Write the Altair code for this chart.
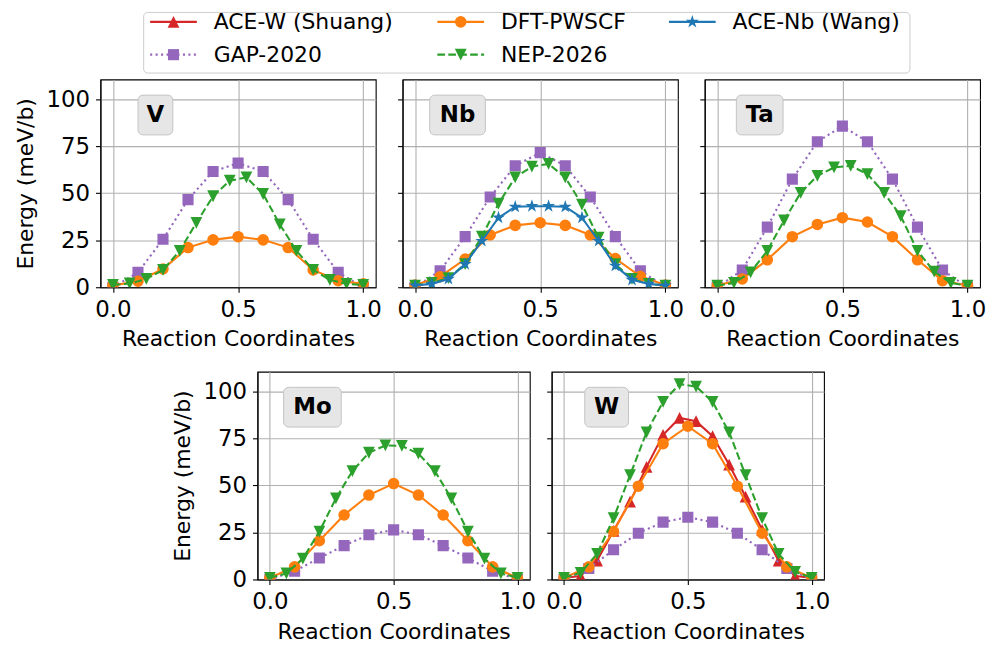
import altair as alt
import pandas as pd

# ---------------- data ----------------
X11 = [0.0, 0.1, 0.2, 0.3, 0.4, 0.5, 0.6, 0.7, 0.8, 0.9, 1.0]
X16 = [0.0, 0.0667, 0.1333, 0.2, 0.2667, 0.3333, 0.4, 0.4667,
       0.5333, 0.6, 0.6667, 0.7333, 0.8, 0.8667, 0.9333, 1.0]

ELEMENTS = ["V", "Nb", "Ta", "Mo", "W"]
SERIES = ["ACE-W (Shuang)", "GAP-2020", "DFT-PWSCF", "NEP-2026", "ACE-Nb (Wang)"]

V_DFT = [1.0, 3.2, 9.7, 21.1, 25.2, 26.9, 25.2, 21.1, 9.2, 3.5, 1.8]
V_GAP = [0.0, 7.9, 25.5, 46.6, 61.6, 66.0, 61.6, 46.6, 25.5, 7.9, 0.0]
V_NEP = [1.2, 2.0, 4.4, 9.2, 19.4, 34.3, 48.4, 56.7, 58.4, 49.6, 33.4, 19.4, 9.2, 3.9, 1.8, 1.2]

NB_DFT = [1.2, 5.6, 15.0, 27.8, 32.9, 34.3, 32.9, 27.8, 15.3, 5.8, 1.2]
NB_GAP = [0.0, 8.8, 26.9, 48.0, 64.6, 71.6, 64.6, 48.0, 26.9, 8.8, 0.0]
NB_NEP = [0.9, 2.3, 4.8, 12.3, 26.9, 44.5, 58.4, 64.2, 65.6, 58.4, 44.0, 26.4, 12.3, 4.4, 1.8, 0.9]
NB_ACE = [0.9, 1.8, 4.4, 12.3, 24.6, 37.0, 42.8, 43.1, 43.1, 42.8, 37.0, 24.6, 11.4, 3.9, 1.8, 0.9]

TA_DFT = [0.9, 4.4, 14.6, 26.9, 33.4, 37.0, 34.7, 26.9, 14.6, 3.5, 0.9]
TA_GAP = [0.0, 9.2, 32.0, 57.5, 77.4, 85.7, 77.4, 57.5, 32.0, 9.2, 0.0]
TA_NEP = [0.9, 2.3, 7.9, 19.4, 35.5, 50.2, 59.3, 63.7, 64.6, 60.2, 50.2, 37.8, 19.4, 8.3, 2.3, 0.9]

MO_DFT = [0.9, 6.7, 20.6, 34.3, 44.9, 51.0, 44.9, 34.3, 20.6, 6.7, 0.9]
MO_GAP = [0.0, 4.4, 11.4, 18.0, 23.8, 26.4, 23.8, 18.0, 11.4, 4.4, 0.0]
MO_NEP = [0.9, 3.2, 11.1, 25.5, 43.1, 57.6, 67.4, 71.3, 71.0, 66.9, 57.6, 43.1, 25.5, 11.1, 3.2, 0.9]

W_DFT = [0.9, 6.7, 25.5, 49.6, 72.2, 81.5, 72.2, 49.6, 24.6, 6.7, 0.9]
W_GAP = [0.0, 5.8, 15.8, 24.6, 30.5, 33.1, 30.5, 24.6, 15.8, 5.8, 0.0]
W_NEP = [0.9, 3.5, 13.6, 32.6, 55.5, 78.3, 94.5, 103.9, 102.6, 94.5, 78.3, 55.5, 32.6, 13.6, 4.0, 0.9]
W_ACE = [0.9, 1.8, 10.0, 25.9, 41.4, 59.9, 76.9, 85.9, 84.2, 76.2, 61.1, 44.0, 26.4, 10.0, 1.8, 0.9]

PANELS = {
    "V": {"GAP-2020": (X11, V_GAP), "DFT-PWSCF": (X11, V_DFT), "NEP-2026": (X16, V_NEP)},
    "Nb": {"GAP-2020": (X11, NB_GAP), "DFT-PWSCF": (X11, NB_DFT), "NEP-2026": (X16, NB_NEP),
           "ACE-Nb (Wang)": (X16, NB_ACE)},
    "Ta": {"GAP-2020": (X11, TA_GAP), "DFT-PWSCF": (X11, TA_DFT), "NEP-2026": (X16, TA_NEP)},
    "Mo": {"GAP-2020": (X11, MO_GAP), "DFT-PWSCF": (X11, MO_DFT), "NEP-2026": (X16, MO_NEP)},
    "W": {"ACE-W (Shuang)": (X16, W_ACE), "GAP-2020": (X11, W_GAP), "DFT-PWSCF": (X11, W_DFT),
          "NEP-2026": (X16, W_NEP)},
}

# ---------------- styles ----------------
FONT = "DejaVu Sans"
TRI_UP = "M0,-1L1,1L-1,1Z"
TRI_DOWN = "M0,1L1,-1L-1,-1Z"
STAR = ("M0,-1L0.2245,-0.309L0.951,-0.309L0.363,0.118L0.588,0.809L0,0.382"
        "L-0.588,0.809L-0.363,0.118L-0.951,-0.309L-0.2245,-0.309Z")
STYLE = {
    "ACE-W (Shuang)": dict(color="#d62728", shape=TRI_UP, size=140, dash=None),
    "GAP-2020": dict(color="#9467bd", shape="square", size=125, dash=[2.1, 3.4]),
    "DFT-PWSCF": dict(color="#ff7f0e", shape="circle", size=135, dash=None),
    "NEP-2026": dict(color="#2ca02c", shape=TRI_DOWN, size=140, dash=[7.7, 3.3]),
    "ACE-Nb (Wang)": dict(color="#1f77b4", shape=STAR, size=190, dash=None),
}
LABEL_BOX_W = {"V": 35, "Nb": 56, "Ta": 47, "Mo": 58, "W": 44}
YMAX = 110.5


def panel(el, w, h, show_y):
    xenc = alt.X("x:Q", scale=alt.Scale(domain=[-0.05, 1.05], nice=False, zero=False),
                 axis=alt.Axis(values=[0, 0.5, 1.0], format=".1f",
                               title="Reaction Coordinates", labelFlush=False))
    if show_y:
        yax = alt.Axis(values=[0, 25, 50, 75, 100], format="d", title="Energy (meV/b)")
    else:
        yax = alt.Axis(values=[0, 25, 50, 75, 100], labels=False, title=None)
    yenc = alt.Y("y:Q", scale=alt.Scale(domain=[0, YMAX], nice=False, zero=False), axis=yax)
    layers = []
    for name in SERIES:
        if name not in PANELS[el]:
            continue
        xs, ys = PANELS[el][name]
        df = pd.DataFrame({"x": xs, "y": ys})
        st = STYLE[name]
        lk = dict(color=st["color"], strokeWidth=2.1, clip=True)
        if st["dash"]:
            lk["strokeDash"] = st["dash"]
        base = alt.Chart(df).encode(x=xenc, y=yenc)
        layers.append(base.mark_line(**lk))
        layers.append(base.mark_point(shape=st["shape"], size=st["size"], filled=True,
                                      color=st["color"], opacity=1, clip=True))
    xc = 55.3 / w * 1.1 - 0.05
    hw = LABEL_BOX_W[el] / 2 / w * 1.1
    yc = (h - 35.7) / h * YMAX
    hh = 20 / h * YMAX
    bdf = pd.DataFrame({"x": [xc - hw], "x2": [xc + hw], "y": [yc - hh], "y2": [yc + hh]})
    layers.append(alt.Chart(bdf).mark_rect(cornerRadius=5, fill="#e6e6e6", stroke="#c4c4c4",
                                           strokeWidth=1).encode(x=xenc, x2="x2:Q", y=yenc, y2="y2:Q"))
    tdf = pd.DataFrame({"x": [xc], "y": [yc], "label": [el]})
    layers.append(alt.Chart(tdf).mark_text(font=FONT, fontSize=23, fontWeight="bold", color="black",
                                           align="center", baseline="middle")
                  .encode(x=xenc, y=yenc, text="label:N"))
    return alt.layer(*layers).properties(width=w, height=h)


def spacer(w, h):
    return alt.Chart(pd.DataFrame({"v": [0]})).mark_point(opacity=0, size=1).encode(
        x=alt.value(1), y=alt.value(1)
    ).properties(width=w, height=h, view=alt.ViewBackground(stroke="transparent"))


# ---------------- legend ----------------
LEG_POS = {"ACE-W (Shuang)": (0, 0), "GAP-2020": (0, 1), "DFT-PWSCF": (1, 0),
           "NEP-2026": (1, 1), "ACE-Nb (Wang)": (2, 0)}
COL_X = [7, 296, 529]
ROW_Y = [10, 43]
leg_layers = []
for name in SERIES:
    c, r = LEG_POS[name]
    x0 = COL_X[c]
    st = STYLE[name]
    df = pd.DataFrame({"x0": [x0], "x1": [x0 + 47], "xm": [x0 + 23.5], "xt": [x0 + 64],
                       "y": [ROW_Y[r]], "label": [name]})
    yy = alt.Y("y:Q", scale=None, axis=None)
    rk = dict(color=st["color"], strokeWidth=2.1)
    if st["dash"]:
        rk["strokeDash"] = st["dash"]
    leg_layers.append(alt.Chart(df).mark_rule(**rk).encode(
        x=alt.X("x0:Q", scale=None, axis=None), x2="x1:Q", y=yy))
    leg_layers.append(alt.Chart(df).mark_point(shape=st["shape"], size=st["size"], filled=True,
                                               color=st["color"], opacity=1).encode(
        x=alt.X("xm:Q", scale=None, axis=None), y=yy))
    leg_layers.append(alt.Chart(df).mark_text(font=FONT, fontSize=22, color="black", align="left",
                                              baseline="middle").encode(
        x=alt.X("xt:Q", scale=None, axis=None), y=yy, text="label:N"))
legend = alt.layer(*leg_layers).properties(
    width=771, height=61,
    view=alt.ViewBackground(stroke="#cccccc", strokeWidth=1, cornerRadius=4, fill="white"))

# ---------------- layout ----------------
PW_TOP, PW_BOT, PH = 277, 274, 209
top_row = alt.hconcat(panel("V", PW_TOP, PH, True), panel("Nb", PW_TOP, PH, False),
                      panel("Ta", PW_TOP, PH, False), spacing=27, bounds="flush")
legend_row = alt.hconcat(spacer(43, 61), legend, spacing=0, bounds="flush")
bottom_row = alt.hconcat(spacer(136, PH), panel("Mo", PW_BOT, PH, True),
                         panel("W", PW_BOT, PH, False), spacing=22, bounds="flush")
gap_row = spacer(8, 8)

chart = alt.vconcat(legend_row, top_row, gap_row, bottom_row, spacing=5).properties(
    padding={"left": 6, "top": 0, "right": 0, "bottom": 0}, background="white"
).configure(font=FONT).configure_axis(
    labelFont=FONT, titleFont=FONT, labelFontSize=23, titleFontSize=22,
    labelColor="black", titleColor="black", titleFontWeight="normal",
    tickColor="black", tickWidth=1.1, tickSize=5, domainColor="black", domainWidth=1.1,
    gridColor="#b0b0b0", gridWidth=1.1, labelPadding=6, titlePadding=8
).configure_view(stroke="black", strokeWidth=1.1)

chart.save("out.html", embed_options={"renderer": "svg", "actions": False})
